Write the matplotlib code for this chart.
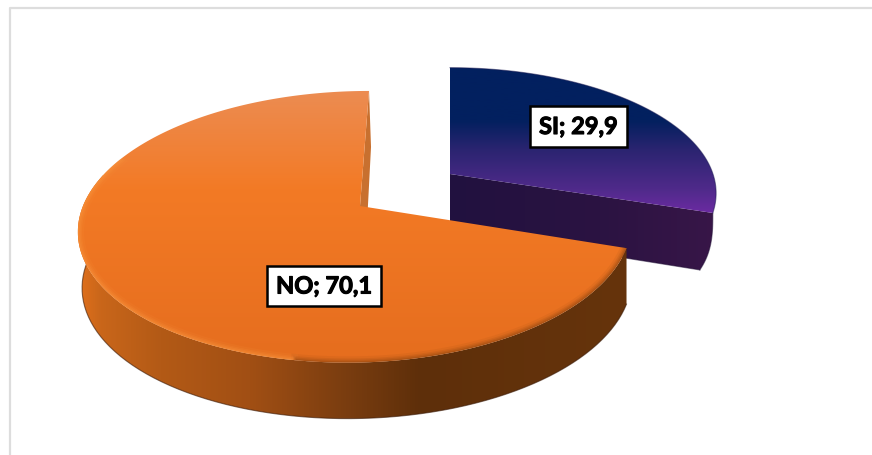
import numpy as np
import matplotlib
matplotlib.use('Agg')
from matplotlib import pyplot as plt
from matplotlib import patheffects
from matplotlib.colors import LinearSegmentedColormap
from matplotlib.patches import Polygon

names = ['SI', 'NO']
values = [29.9, 70.1]

# pie geometry in pixels, one row per slice
apex = [(450, 175), (360, 207)]
scale = [0.915, 0.99]
shear = [0, 10.4]
rx_right = [263, 270]
rx_left = 277
depth = 56
k = 0.153
ry = 134

label_pos = [(578.5, 127.5), (324, 287)]

# colour stops: (position in pixels, colour)
top_stops = [
    [(67, '#02205f'), (122, '#03205f'), (150, '#2a2470'), (190, '#4f2a8a'), (215, '#6c2ba3')],
    [(91, '#ec8c52'), (190, '#f37a25'), (370, '#e56d1e')],
]
wall_stops = [
    [(450, '#21113f'), (600, '#2b1342'), (716, '#381648')],
    [(78, '#e0701c'), (100, '#c9661a'), (160, '#b35a16'), (250, '#a14f14'),
     (340, '#7c3e10'), (420, '#5e2f0a'), (628, '#66340c')],
]


def project(theta, i, s=1.0):
    # theta in degrees clockwise from the back of the pie
    u = np.sin(np.radians(theta))
    v = np.cos(np.radians(theta))
    w = 1 + k * v
    rx = np.where(u < 0, rx_left * s, rx_right[i])
    x = apex[i][0] + (rx * u + shear[i] * v) / w
    y = apex[i][1] - scale[i] * ry * v / w
    return x, y


def gradient(ax, stops, patch, vertical):
    lo, hi = stops[0][0], stops[-1][0]
    cmap = LinearSegmentedColormap.from_list(
        'g', [((p - lo) / (hi - lo), c) for p, c in stops])
    ramp = np.linspace(0, 1, 256)
    ax.add_patch(patch)
    patch.set_facecolor('none')
    patch.set_edgecolor('none')
    if vertical:
        im = ax.imshow(ramp[:, None], cmap=cmap, extent=(0, 872, hi, lo), aspect='auto', zorder=patch.get_zorder())
    else:
        im = ax.imshow(ramp[None, :], cmap=cmap, extent=(lo, hi, 456, 0), aspect='auto', zorder=patch.get_zorder())
    im.set_clip_path(patch)


fig = plt.figure(figsize=(8.72, 4.56), dpi=100)
ax = fig.add_axes([0, 0, 1, 1])

# chart frame
ax.plot([880, 10, 10], [8.5, 8.5, 470], color='#dddddd', lw=1.6, zorder=1)

total = sum(values)
start = 0
z = 2
for i in range(len(values)):
    end = start + 360 * values[i] / total
    theta = np.linspace(start, end, 240)
    x, y = project(theta, i)
    ax0, ay0 = apex[i]

    if i == 0:
        # exploded slice shows its cut face, tip curves inward towards the bottom
        t = np.linspace(0, 1, 30)
        curve = np.c_[x[-1] - 13 * t**3, y[-1] + (depth + 1) * t]
        cut = Polygon(np.vstack([[(ax0, ay0)], curve, [(ax0, ay0 + depth)]]), closed=True, zorder=z)
        gradient(ax, wall_stops[i], cut, False)
        ax.plot(curve[:, 0], curve[:, 1], color='#1d0d33', lw=0.8, alpha=0.5, zorder=z)
        ax.plot([curve[-1, 0], ax0], [curve[-1, 1], ay0 + depth], color='#1d0d33', lw=0.8, alpha=0.5, zorder=z)
    else:
        ax.add_patch(Polygon([(ax0, ay0), (x[-1], y[-1]), (x[-1] + 2, y[-1] + depth),
                              (ax0 + 5, ay0 + depth)], fc='#c8702f', ec='none', zorder=z))
        # side wall, only the front part of the rim
        front = theta < 285
        xb, yb = project(theta[front], i, 0.985)
        yb = yb + depth
        wall = Polygon(np.vstack([np.c_[x[front], y[front]], np.c_[xb, yb][::-1]]), closed=True, zorder=z + 1)
        gradient(ax, wall_stops[i], wall, False)
        ax.plot(xb, yb, color='#3a1a08', lw=0.8, alpha=0.6, zorder=z + 1)

    # top face
    face = Polygon(np.vstack([[(ax0, ay0)], np.c_[x, y]]), closed=True, zorder=z + 2)
    gradient(ax, top_stops[i], face, True)

    # soft bevel on the front rim, kept inside the top face
    if i == 1:
        for lw, a in [(9, 0.10), (6, 0.16), (4, 0.22), (2, 0.3)]:
            left = (theta > 190) & (theta < 292)
            ln, = ax.plot(x[left], y[left], color='#f9963f', lw=lw, alpha=a, zorder=z + 3)
            ln.set_clip_path(face)
            right = theta < 190
            ln, = ax.plot(x[right], y[right], color='#7a3d0e', lw=lw, alpha=a * 0.8, zorder=z + 3)
            ln.set_clip_path(face)
    else:
        ax.plot(x, y, color='#1a1850', lw=0.8, alpha=0.5, zorder=z + 3)

    start = end
    z += 4

# data labels
for i in range(len(values)):
    txt = '%s; %s' % (names[i], ('%.1f' % values[i]).replace('.', ','))
    t = ax.text(label_pos[i][0], label_pos[i][1], txt, family='Lato', weight='bold', fontsize=17,
                color='black', ha='center', va='center', zorder=20,
                bbox=dict(boxstyle='square,pad=0.38', fc='white', ec='black', lw=1.8))
    t.set_path_effects([patheffects.withStroke(linewidth=0.8, foreground='black')])

ax.set_xlim(0, 872)
ax.set_ylim(456, 0)
ax.axis('off')
fig.savefig('out.png', dpi=100, facecolor='white')
